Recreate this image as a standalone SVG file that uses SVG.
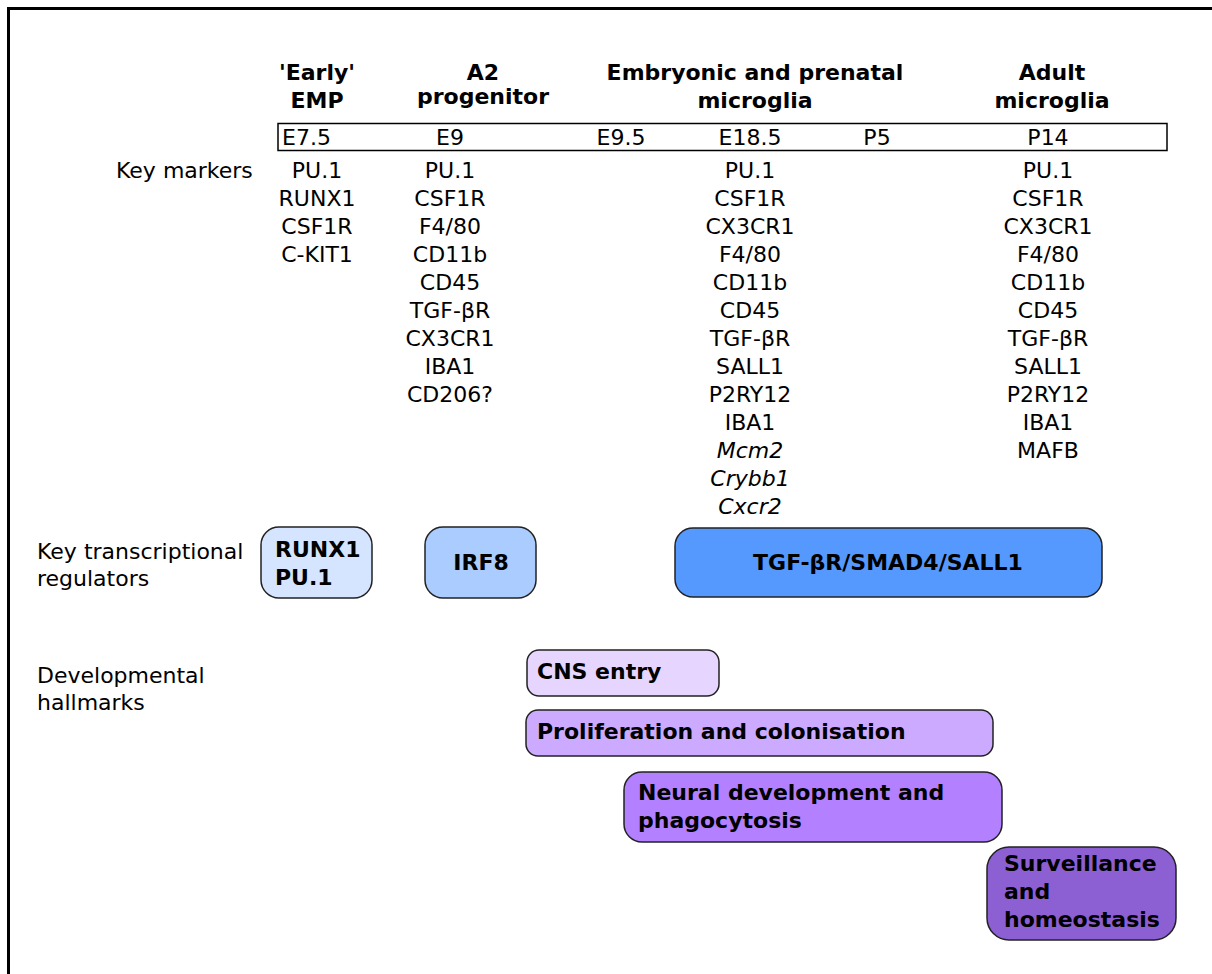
<svg xmlns="http://www.w3.org/2000/svg" width="1212" height="974" viewBox="0 0 1212 974">
<style>
text{font-family:"DejaVu Sans",Verdana,sans-serif;font-size:22px;fill:#000}
.b{font-weight:bold}
.c{text-anchor:middle}
.i{font-style:italic}
.box{stroke:#222;stroke-width:1.5}
</style>
<rect x="0" y="0" width="1212" height="974" fill="#fff"/>
<rect x="8.5" y="8.5" width="1230" height="990" fill="none" stroke="#000" stroke-width="3"/>
<g id="headers">
<text class="b c" x="317" y="80">'Early'</text>
<text class="b c" x="317" y="108">EMP</text>
<text class="b c" x="483" y="80">A2</text>
<text class="b c" x="483" y="104">progenitor</text>
<text class="b c" x="755" y="80">Embryonic and prenatal</text>
<text class="b c" x="755" y="108">microglia</text>
<text class="b c" x="1052" y="80">Adult</text>
<text class="b c" x="1052" y="108">microglia</text>
</g>
<g id="timeline">
<rect x="278" y="123.5" width="889" height="27" fill="none" stroke="#000" stroke-width="1.5"/>
<text x="282" y="145">E7.5</text>
<text class="c" x="450" y="145">E9</text>
<text class="c" x="621" y="145">E9.5</text>
<text class="c" x="750" y="145">E18.5</text>
<text class="c" x="877" y="145">P5</text>
<text class="c" x="1048" y="145">P14</text>
</g>
<g id="row-labels">
<text x="116" y="178">Key markers</text>
<text x="37" y="559">Key transcriptional</text>
<text x="37" y="586">regulators</text>
<text x="37" y="683">Developmental</text>
<text x="37" y="710">hallmarks</text>
</g>
<g id="markers-emp">
<text class="c" x="317" y="178">PU.1</text>
<text class="c" x="317" y="206">RUNX1</text>
<text class="c" x="317" y="234">CSF1R</text>
<text class="c" x="317" y="262">C-KIT1</text>
</g>
<g id="markers-a2">
<text class="c" x="450" y="178">PU.1</text>
<text class="c" x="450" y="206">CSF1R</text>
<text class="c" x="450" y="234">F4/80</text>
<text class="c" x="450" y="262">CD11b</text>
<text class="c" x="450" y="290">CD45</text>
<text class="c" x="450" y="318">TGF-βR</text>
<text class="c" x="450" y="346">CX3CR1</text>
<text class="c" x="450" y="374">IBA1</text>
<text class="c" x="450" y="402">CD206?</text>
</g>
<g id="markers-embryonic">
<text class="c" x="750" y="178">PU.1</text>
<text class="c" x="750" y="206">CSF1R</text>
<text class="c" x="750" y="234">CX3CR1</text>
<text class="c" x="750" y="262">F4/80</text>
<text class="c" x="750" y="290">CD11b</text>
<text class="c" x="750" y="318">CD45</text>
<text class="c" x="750" y="346">TGF-βR</text>
<text class="c" x="750" y="374">SALL1</text>
<text class="c" x="750" y="402">P2RY12</text>
<text class="c" x="750" y="430">IBA1</text>
<text class="c i" x="750" y="458">Mcm2</text>
<text class="c i" x="750" y="486">Crybb1</text>
<text class="c i" x="750" y="514">Cxcr2</text>
</g>
<g id="markers-adult">
<text class="c" x="1048" y="178">PU.1</text>
<text class="c" x="1048" y="206">CSF1R</text>
<text class="c" x="1048" y="234">CX3CR1</text>
<text class="c" x="1048" y="262">F4/80</text>
<text class="c" x="1048" y="290">CD11b</text>
<text class="c" x="1048" y="318">CD45</text>
<text class="c" x="1048" y="346">TGF-βR</text>
<text class="c" x="1048" y="374">SALL1</text>
<text class="c" x="1048" y="402">P2RY12</text>
<text class="c" x="1048" y="430">IBA1</text>
<text class="c" x="1048" y="458">MAFB</text>
</g>
<g id="reg-runx1">
<rect class="box" x="261" y="527" width="111" height="71" rx="18" fill="#d5e5ff"/>
<text class="b" x="275" y="557">RUNX1</text>
<text class="b" x="275" y="585">PU.1</text>
</g>
<g id="reg-irf8">
<rect class="box" x="425" y="527" width="111" height="71" rx="18" fill="#aaccff"/>
<text class="b c" x="481" y="570">IRF8</text>
</g>
<g id="reg-tgf">
<rect class="box" x="675" y="528" width="427" height="69" rx="18" fill="#5599ff"/>
<text class="b c" x="888" y="570">TGF-βR/SMAD4/SALL1</text>
</g>
<g id="hall-cns">
<rect class="box" x="527" y="650" width="192" height="46" rx="12" fill="#e5d5ff"/>
<text class="b" x="537" y="679">CNS entry</text>
</g>
<g id="hall-prolif">
<rect class="box" x="526" y="710" width="467" height="46" rx="12" fill="#ccaaff"/>
<text class="b" x="537" y="739">Proliferation and colonisation</text>
</g>
<g id="hall-neural">
<rect class="box" x="624" y="772" width="378" height="70" rx="18" fill="#b380ff"/>
<text class="b" x="638" y="800">Neural development and</text>
<text class="b" x="638" y="828">phagocytosis</text>
</g>
<g id="hall-surv">
<rect class="box" x="987" y="847" width="189" height="93" rx="22" fill="#8c5fd3"/>
<text class="b" x="1004" y="871">Surveillance</text>
<text class="b" x="1004" y="899">and</text>
<text class="b" x="1004" y="927">homeostasis</text>
</g>
<g id="connectors"></g>
</svg>
